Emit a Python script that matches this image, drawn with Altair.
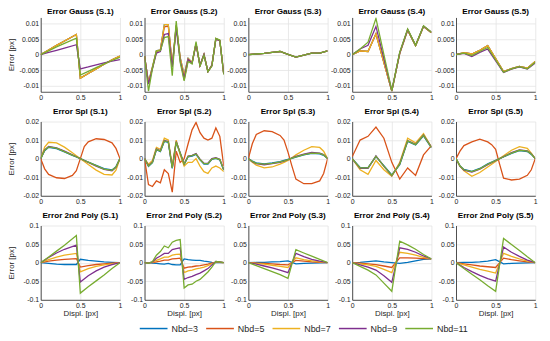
import altair as alt
import pandas as pd

SERIES = ["Nbd=3", "Nbd=5", "Nbd=7", "Nbd=9", "Nbd=11"]
COLORS = ["#0072BD", "#D95319", "#EDB120", "#7E2F8E", "#77AC30"]
ROW_NAMES = ["Gauss", "Spl", "2nd Poly"]
SETS = ["S.1", "S.2", "S.3", "S.4", "S.5"]
Y_LIMITS = [0.012, 0.02, 0.1]
Y_TICKS = [[-0.01, -0.005, 0, 0.005, 0.01],
           [-0.02, -0.01, 0, 0.01, 0.02],
           [-0.1, -0.05, 0, 0.05, 0.1]]
X_TICKS = [0, 0.5, 1]

X11 = [0, .1, .2, .3, .4, .5, .6, .7, .8, .9, 1]
X15 = [0, .05, .1, .2, .3, .4, .45, .5, .55, .6, .7, .8, .9, .95, 1]
X21 = [0, .05, .1, .15, .2, .25, .3, .35, .4, .45, .5, .55, .6, .65, .7, .75, .8, .85, .9, .95, 1]
XJ45 = [0, .1, .2, .3, .45, .5, .6, .7, .8, .9, 1]

# ---- Gauss (series order: Nbd=3, 5, 7, 9, 11)
G1_X = XJ45
G1 = [
    [0, 0.0015, 0.003, 0.0044, 0.0065, -0.0076, -0.0061, -0.0046, -0.0031, -0.0017, -0.0005],
    [0, 0.0015, 0.003, 0.0044, 0.0065, -0.0076, -0.0061, -0.0046, -0.0031, -0.0017, -0.0005],
    [0, 0.0015, 0.003, 0.0044, 0.0065, -0.0076, -0.0061, -0.0046, -0.0031, -0.0017, -0.0005],
    [0, 0.0007, 0.0014, 0.0021, 0.0032, -0.0046, -0.0040, -0.0033, -0.0027, -0.0021, -0.0016],
    [0, 0.0012, 0.0025, 0.0036, 0.0053, -0.0066, -0.0054, -0.0042, -0.003, -0.0019, -0.0009],
]
G2_X = X21
G2 = [
    [-0.0005, -0.009, -0.004, 0.0012, 0.0015, 0.0097, 0.0097, -0.0035, 0.0095, -0.001, -0.0065, -0.0012, -0.0025, 0.0035, -0.0035, 0.0, -0.0055, -0.0035, 0.0052, 0.0045, -0.0062],
    [-0.0005, -0.0092, -0.0042, 0.001, 0.0014, 0.009, 0.0092, -0.0038, 0.0092, -0.0012, -0.0082, -0.0018, -0.0026, 0.0035, -0.0035, 0.0, -0.0055, -0.0035, 0.0051, 0.0045, -0.0062],
    [-0.0005, -0.009, -0.004, 0.0012, 0.0015, 0.0097, 0.0097, -0.0035, 0.0095, -0.001, -0.0065, -0.0012, -0.0025, 0.0035, -0.0035, 0.0, -0.0055, -0.0035, 0.0052, 0.0045, -0.0062],
    [-0.0005, -0.0095, -0.0045, 0.0005, 0.001, 0.0065, 0.0068, -0.004, 0.0085, -0.002, -0.0075, -0.0015, -0.0028, 0.0035, -0.0035, 0.0, -0.0055, -0.0035, 0.005, 0.0045, -0.0063],
    [-0.0005, -0.0118, -0.0045, 0.0012, 0.0013, 0.0055, 0.0058, -0.0068, 0.0108, -0.0025, -0.0085, -0.0022, -0.003, 0.0042, -0.0038, -0.0002, -0.0055, -0.0037, 0.0052, 0.0047, -0.0065],
]
G3_X = X11
G3 = [
    [0, 0.0002, 0.0004, 0.0007, 0.0010, 0.0001, -0.0008, -0.0002, 0.0005, 0.0005, 0.0012],
    [0, 0.0002, 0.0004, 0.0007, 0.0010, 0.0001, -0.0008, -0.0002, 0.0005, 0.0005, 0.0012],
    [0, 0.0002, 0.0004, 0.0007, 0.0010, 0.0001, -0.0008, -0.0002, 0.0005, 0.0005, 0.0012],
    [0, 0.0002, 0.0004, 0.0007, 0.0010, 0.0001, -0.0008, -0.0002, 0.0005, 0.0005, 0.0012],
    [0, 0.0002, 0.0004, 0.0007, 0.0010, 0.0001, -0.0008, -0.0002, 0.0005, 0.0005, 0.0012],
]
G4_X = [0, .1, .2, .3, .5, .6, .7, .8, .9, 1]
G4 = [
    [0, 0.0012, 0.001, 0.0067, -0.0118, 0.0004, 0.0079, 0.0029, 0.0091, 0.0071],
    [0, 0.0012, 0.001, 0.0067, -0.0118, 0.0004, 0.0079, 0.0029, 0.0091, 0.0071],
    [0, 0.0012, 0.001, 0.0067, -0.0118, 0.0004, 0.0079, 0.0029, 0.0091, 0.0071],
    [0, 0.0018, 0.003, 0.0091, -0.0116, 0.0006, 0.0081, 0.003, 0.0092, 0.0072],
    [0, 0.0018, 0.004, 0.0117, -0.0116, 0.0008, 0.0083, 0.003, 0.0093, 0.0072],
]
G5_X = [0, .1, .2, .3, .4, .6, .7, .8, .9, 1]
G5 = [
    [0, 0.0006, 0.0002, 0.0014, 0.0029, -0.0055, -0.0045, -0.0038, -0.0044, -0.0022],
    [0, 0.0006, 0.0002, 0.0014, 0.0029, -0.0055, -0.0045, -0.0038, -0.0044, -0.0022],
    [0, 0.0006, 0.0002, 0.0014, 0.0029, -0.0055, -0.0045, -0.0038, -0.0044, -0.0022],
    [0, 0.0004, -0.0006, 0.0007, 0.0018, -0.0058, -0.0047, -0.004, -0.0047, -0.0027],
    [0, 0.0005, -0.0003, 0.001, 0.0023, -0.0057, -0.0046, -0.0039, -0.0046, -0.0025],
]

# ---- Spline
S1_X = X15
S1 = [
    [0, 0.0043, 0.0061, 0.0054, 0.0036, 0.0018, 0.0009, 0.0, -0.0009, -0.0018, -0.0036, -0.0054, -0.0061, -0.0043, 0],
    [0, -0.0055, -0.0085, -0.0103, -0.0107, -0.009, -0.0065, 0.0, 0.0065, 0.009, 0.0107, 0.0103, 0.0085, 0.0055, 0],
    [0, 0.0062, 0.0088, 0.0085, 0.0062, 0.0032, 0.0016, 0.0, -0.0016, -0.0032, -0.0062, -0.0085, -0.0088, -0.0062, 0],
    [0, 0.0047, 0.0066, 0.0058, 0.004, 0.002, 0.001, 0.0, -0.001, -0.002, -0.004, -0.0058, -0.0066, -0.0047, 0],
    [0, 0.0045, 0.0063, 0.0056, 0.0038, 0.0019, 0.001, 0.0, -0.001, -0.0019, -0.0038, -0.0056, -0.0063, -0.0045, 0],
]
S2_X = X21
S2 = [
    [0, -0.0042, -0.0022, 0.0048, 0.0038, 0.0093, 0.0088, -0.0052, 0.0088, 0.0028, -0.0032, 0.001, 0.0014, 0.0023, -0.0007, -0.0029, -0.0029, -0.0004, 0.0001, -0.0007, -0.0062],
    [0, -0.014, -0.015, -0.012, -0.013, -0.006, -0.008, -0.018, 0.004, -0.002, 0.0, 0.008, 0.0155, 0.0195, 0.014, 0.011, 0.01, 0.011, 0.0165, 0.012, -0.004],
    [0, -0.003, -0.001, 0.006, 0.005, 0.011, 0.01, -0.004, 0.01, 0.002, -0.004, -0.002, -0.002, 0.0, -0.004, -0.007, -0.008, -0.005, -0.004, -0.005, -0.007],
    [0, -0.0038, -0.0018, 0.0052, 0.0042, 0.0097, 0.0092, -0.0048, 0.0092, 0.0032, -0.0028, 0.0014, 0.0018, 0.0027, -0.0003, -0.0025, -0.0025, 0.0, 0.0005, -0.0003, -0.0058],
    [0, -0.004, -0.002, 0.005, 0.004, 0.0095, 0.009, -0.005, 0.009, 0.003, -0.003, 0.0012, 0.0016, 0.0025, -0.0005, -0.0027, -0.0027, -0.0002, 0.0003, -0.0005, -0.006],
]
S3_X = X15
S3 = [
    [0, -0.0013, -0.0023, -0.0028, -0.0023, -0.0016, -0.001, -0.0004, 0.0002, 0.0008, 0.002, 0.0028, 0.0026, 0.0018, 0],
    [0, 0.008, 0.013, 0.015, 0.0145, 0.0125, 0.01, 0.0035, -0.004, -0.011, -0.0135, -0.0135, -0.012, -0.008, 0],
    [0, -0.002, -0.0035, -0.005, -0.0045, -0.003, -0.002, -0.001, 0.0005, 0.002, 0.0045, 0.0065, 0.006, 0.004, 0],
    [0, -0.0017, -0.0027, -0.0033, -0.0027, -0.002, -0.0014, -0.0006, 0.0004, 0.0012, 0.0024, 0.0033, 0.003, 0.0022, 0],
    [0, -0.0015, -0.0025, -0.003, -0.0025, -0.0018, -0.0012, -0.0005, 0.0003, 0.001, 0.0022, 0.003, 0.0028, 0.002, 0],
]
S4_X = X11
S4 = [
    [0, -0.0048, -0.0048, 0.0011, -0.0038, -0.0088, -0.0032, 0.0093, 0.0073, 0.0123, 0.0058],
    [0.001, 0.01, 0.012, 0.017, 0.011, -0.002, -0.011, -0.005, -0.009, 0.002, 0.007],
    [0, -0.006, -0.0085, -0.001, -0.006, -0.0095, -0.002, 0.011, 0.0085, 0.0135, 0.0062],
    [0, -0.0052, -0.0052, 0.0015, -0.0042, -0.0092, -0.0028, 0.0097, 0.0077, 0.0127, 0.0062],
    [0, -0.005, -0.005, 0.0013, -0.004, -0.009, -0.003, 0.0095, 0.0075, 0.0125, 0.006],
]
S5_X = X15
S5 = [
    [0, -0.0038, -0.0058, -0.0068, -0.0053, -0.0028, -0.0018, -0.0009, 0, 0.0009, 0.0028, 0.0043, 0.0038, 0.0023, 0],
    [0, 0.004, 0.007, 0.009, 0.0105, 0.009, 0.0075, 0.005, -0.003, -0.0105, -0.0115, -0.011, -0.009, -0.006, 0],
    [0, -0.004, -0.0065, -0.0095, -0.0075, -0.0045, -0.003, -0.0015, 0, 0.0015, 0.0045, 0.0065, 0.0055, 0.003, 0],
    [0, -0.0042, -0.0062, -0.0072, -0.0057, -0.0032, -0.0022, -0.0011, 0, 0.0011, 0.0032, 0.0047, 0.0042, 0.0027, 0],
    [0, -0.004, -0.006, -0.007, -0.0055, -0.003, -0.002, -0.001, 0, 0.001, 0.003, 0.0045, 0.004, 0.0025, 0],
]

# ---- 2nd order polynomial
P1_X = XJ45
P1 = [
    [0, -0.002, -0.004, -0.005, -0.005, 0.009, 0.006, 0.004, 0.002, 0.001, 0],
    [0, 0.004, 0.007, 0.009, 0.011, -0.012, -0.008, -0.005, -0.003, -0.001, 0],
    [0, 0.008, 0.015, 0.02, 0.025, -0.025, -0.016, -0.01, -0.006, -0.003, 0],
    [0, 0.014, 0.026, 0.036, 0.047, -0.052, -0.035, -0.022, -0.012, -0.005, 0],
    [0, 0.015, 0.031, 0.047, 0.073, -0.082, -0.065, -0.049, -0.033, -0.016, 0],
]
P2_X = X21
P2 = [
    [0, 0, -0.001, -0.002, -0.003, -0.004, -0.002, -0.005, -0.006, -0.006, 0.01, 0.008, 0.007, 0.006, 0.006, 0.004, 0.003, 0.001, 0, 0, 0],
    [0, 0, 0.0, 0.002, 0.004, 0.007, 0.007, 0.01, 0.011, 0.012, -0.015, -0.012, -0.011, -0.009, -0.008, -0.006, -0.004, -0.001, 0.001, 0.001, 0],
    [0, 0, 0.001, 0.006, 0.01, 0.015, 0.015, 0.02, 0.022, 0.023, -0.027, -0.022, -0.02, -0.017, -0.015, -0.012, -0.008, -0.003, 0.002, 0.001, 0],
    [0, -0.001, 0.002, 0.012, 0.018, 0.025, 0.025, 0.035, 0.038, 0.04, -0.045, -0.04, -0.037, -0.032, -0.028, -0.022, -0.016, -0.006, 0.003, 0.002, 0],
    [0, -0.002, 0.003, 0.02, 0.03, 0.045, 0.04, 0.055, 0.06, 0.062, -0.068, -0.06, -0.058, -0.05, -0.045, -0.035, -0.025, -0.012, 0.003, 0.002, 0],
]
P3_X = X11
P3 = [
    [0, 0.0005, 0.001, 0.002, 0.003, 0.005, -0.003, -0.002, -0.001, -0.0005, 0],
    [0, -0.001, -0.002, -0.003, -0.005, -0.006, 0.006, 0.004, 0.002, 0.001, 0],
    [0, -0.002, -0.004, -0.007, -0.01, -0.013, 0.013, 0.008, 0.005, 0.002, 0],
    [0, -0.004, -0.009, -0.014, -0.02, -0.027, 0.025, 0.016, 0.009, 0.004, 0],
    [0, -0.008, -0.016, -0.024, -0.032, -0.042, 0.035, 0.026, 0.0175, 0.009, 0],
]
P4_X = X11
P4 = [
    [0, 0.001, 0.003, 0.005, 0.002, 0.0, -0.002, 0.001, 0.005, 0.009, 0.01],
    [0, -0.001, -0.003, -0.005, -0.009, -0.013, 0.013, 0.013, 0.012, 0.011, 0.01],
    [0, -0.003, -0.006, -0.01, -0.018, -0.027, 0.028, 0.025, 0.02, 0.014, 0.01],
    [0, -0.006, -0.012, -0.02, -0.035, -0.053, 0.04, 0.036, 0.028, 0.018, 0.01],
    [0, -0.01, -0.02, -0.033, -0.055, -0.077, 0.058, 0.048, 0.036, 0.022, 0.01],
]
P5_X = X11
P5 = [
    [0, 0.0005, 0.001, 0.002, 0.004, 0.008, -0.003, -0.002, -0.001, -0.0005, 0],
    [0, -0.003, -0.006, -0.009, -0.011, -0.013, 0.012, 0.008, 0.005, 0.002, 0],
    [0, -0.006, -0.012, -0.018, -0.023, -0.028, 0.025, 0.017, 0.01, 0.004, 0],
    [0, -0.013, -0.024, -0.034, -0.043, -0.05, 0.042, 0.028, 0.017, 0.007, 0],
    [0, -0.016, -0.031, -0.046, -0.062, -0.077, 0.065, 0.049, 0.033, 0.016, 0],
]

PANELS = [
    [(G1_X, G1), (G2_X, G2), (G3_X, G3), (G4_X, G4), (G5_X, G5)],
    [(S1_X, S1), (S2_X, S2), (S3_X, S3), (S4_X, S4), (S5_X, S5)],
    [(P1_X, P1), (P2_X, P2), (P3_X, P3), (P4_X, P4), (P5_X, P5)],
]

FONT = "Liberation Sans"
W, H = 80, 75


def panel(r, c, xs, ys):
    rows = []
    for s, vals in zip(SERIES, ys):
        for i, (x, v) in enumerate(zip(xs, vals)):
            rows.append({"x": x, "y": v, "series": s, "k": i})
    df = pd.DataFrame(rows)

    xkw = dict(values=X_TICKS, labelExpr="toString(datum.value)", labelFlush=False,
               grid=True, ticks=False)
    if r == 2:
        xkw["title"] = "Displ. [px]"
        xkw["titlePadding"] = 1
    else:
        xkw["title"] = ""
    ykw = dict(values=Y_TICKS[r], labelExpr="toString(datum.value)", grid=True, ticks=False)
    if c == 0:
        ykw["title"] = "Error [px]"
        ykw["titleX"] = -25
        ykw["titleY"] = H / 2
    else:
        ykw["title"] = ""

    lim = Y_LIMITS[r]
    return alt.Chart(df).mark_line(strokeWidth=1.3, clip=True).encode(
        x=alt.X("x:Q", scale=alt.Scale(domain=[0, 1], nice=False), axis=alt.Axis(**xkw)),
        y=alt.Y("y:Q", scale=alt.Scale(domain=[-lim, lim], nice=False, zero=False),
                axis=alt.Axis(**ykw)),
        color=alt.Color("series:N", scale=alt.Scale(domain=SERIES, range=COLORS),
                        legend=alt.Legend(orient="none", legendX=99, legendY=299,
                                          direction="horizontal", title="",
                                          symbolType="stroke", symbolSize=784,
                                          symbolStrokeWidth=1.5, labelFontSize=9,
                                          labelFont=FONT, labelOffset=3,
                                          columnPadding=5, labelColor="#262626")),
        order="k:Q",
    ).properties(
        width=W, height=H,
        title=alt.TitleParams(text=f"Error {ROW_NAMES[r]} ({SETS[c]})", fontSize=8.2,
                              fontWeight="bold", font=FONT, offset=1, color="black",
                              anchor="middle"),
    )


charts = [panel(r, c, *PANELS[r][c]) for r in range(3) for c in range(5)]

chart = alt.concat(*charts, columns=5, spacing={"row": 30, "column": 24.8},
                   bounds="flush").properties(
    padding={"left": 0, "top": -3, "right": 4, "bottom": 2}
).configure_axis(
    labelFont=FONT, labelFontSize=7, labelColor="#262626", labelPadding=2,
    titleFont=FONT, titleFontSize=8, titleFontWeight="normal", titleColor="#262626",
    gridColor="#e3e3e3", gridWidth=0.8, domainColor="#262626", domainWidth=0.8,
).configure_view(strokeWidth=0)

chart.save("out.html", embed_options={"renderer": "svg", "actions": False})
